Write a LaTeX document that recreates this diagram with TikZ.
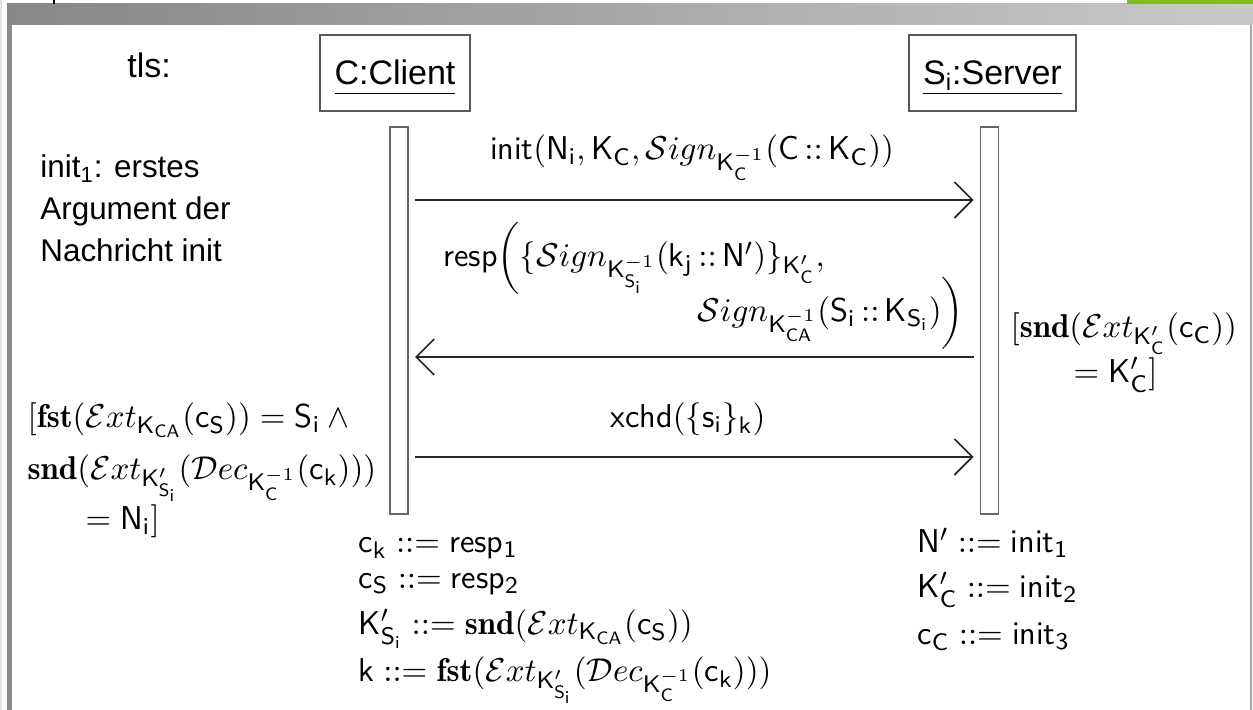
\RequirePackage{fix-cm}
\documentclass[tikz,border=0pt]{standalone}
\usepackage{fontspec}
\newfontfamily\arial{Liberation Sans}
\usetikzlibrary{arrows.meta}
\DeclareMathSizes{11}{11}{8}{6}
\newcommand\cons{\mskip3mu{:}{:}\mskip3mu}
\newcommand\defeq{\mathrel{{:}{:}{=}}}
\newcommand\objname[1]{\underline{\vphantom{S\textsubscript{i}}#1}}
\definecolor{bargreen}{RGB}{128,186,36}
\tikzset{
  lbl/.style = {font = \arial\fontsize{17}{20}\selectfont, inner sep = 0pt},
  obj/.style = {draw = black!65, line width = 1pt, minimum height = 38pt, text height = 13pt, text depth = 1pt, font = \arial\fontsize{17}{20}\selectfont},
  bar/.style = {draw = black!60, fill = white, line width = 0.8pt, minimum width = 9pt, minimum height = 193.5pt, inner sep = 0pt},
  msg/.style = {draw = black!85, line width = 0.8pt, shorten <=8pt, shorten >=8pt, -{Straight Barb[length = 9pt, width = 18pt]}},
  fml/.style = {font = \fontsize{11}{13.33}\selectfont, scale = 1.5, transform shape, inner sep = 0pt, anchor = base west},
  defs/.style = {fml, font = \fontsize{11}{11.7}\selectfont}
}
\begin{document}
\begin{tikzpicture}[x = 0.5pt, y = -0.5pt]
\fill[white] (0,0) rectangle (1253,710);
\useasboundingbox (0,0) rectangle (1253,710);
\shade[left color = black!47, right color = black!21] (7,4) rectangle (1253,25);
\fill[bargreen] (1127,0) rectangle (1253,4);
\draw[black, line width = 0.6pt] (54,0) -- (54,4);
\fill[black!10] (0,0) rectangle (2,710);
\fill[black!45] (7,25) rectangle (12,710);
\draw[black!35, line width = 0.8pt] (1251,25) -- (1251,710);
\node[lbl, anchor = base west] (tls) at (127,78) {tls:};
\node[lbl, font = \arial\fontsize{15.7}{21}\selectfont, anchor = base west] (note) at (40,178) {\begin{tabular}[t]{@{}l@{}}init\textsubscript{1}: erstes\\Argument der\\Nachricht init\end{tabular}};
\node[obj, minimum width = 75pt] (client) at (395,73) {\objname{C:Client}};
\node[obj, minimum width = 83.5pt] (server) at (992.5,73) {\objname{S\textsubscript{i}:Server}};
\node[bar] (cbar) at (399,320.5) {};
\node[bar] (sbar) at (989.5,320.5) {};
\draw[msg] (cbar |- 0,200) -- (sbar |- 0,200);
\draw[msg] (sbar |- 0,357) -- (cbar |- 0,357);
\draw[msg] (cbar |- 0,457) -- (sbar |- 0,457);
\node[fml, anchor = base] (init) at (692,160) {$\mathsf{init}(\mathsf{N_i}, \mathsf{K_C}, \mathcal{S}ign_{\mathsf{K}_{\mathsf{C}}^{-1}}(\mathsf{C}\cons\mathsf{K_C}))$};
\node[fml] (resp) at (443,267) {$\begin{array}[t]{@{}l@{}}
\mathsf{resp}\mathopen{\smash{\biggl(}}\{\mathcal{S}ign_{\mathsf{K}_{\mathsf{S_i}}^{-1}}(\mathsf{k_j}\cons\mathsf{N}')\}_{\mathsf{K}'_{\mathsf{C}}},\\[1.5pt]
\hspace{84.7pt}\mathcal{S}ign_{\mathsf{K}_{\mathsf{CA}}^{-1}}(\mathsf{S_i}\cons\mathsf{K_{S_i}})\mathclose{\smash{\biggr)}}
\end{array}$};
\node[fml, anchor = base] (xchd) at (688,428) {$\mathsf{xchd}(\{\mathsf{s_i}\}_{\mathsf{k}})$};
\node[fml] (sguard) at (1010,338) {$\begin{array}[t]{@{}l@{}}
[\mathbf{snd}(\mathcal{E}xt_{\mathsf{K}'_{\mathsf{C}}}(\mathsf{c_C}))\\[1.5pt]
\hspace{21pt}= \mathsf{K}'_{\mathsf{C}}]
\end{array}$};
\node[fml] (cguard) at (27,428) {$\begin{array}[t]{@{}l@{}}
[\mathbf{fst}(\mathcal{E}xt_{\mathsf{K_{CA}}}(\mathsf{c_S})) = \mathsf{S_i} \wedge{}\\[4pt]
\mathbf{snd}(\mathcal{E}xt_{\mathsf{K}'_{\mathsf{S_i}}}(\mathcal{D}ec_{\mathsf{K}_{\mathsf{C}}^{-1}}(\mathsf{c_k})))\\
\hspace{19.3pt}= \mathsf{N_i}]
\end{array}$};
\node[defs] (cdefs) at (358,553) {$\begin{array}[t]{@{}l@{}}
\mathsf{c_k} \defeq \mathsf{resp_1}\\
\mathsf{c_S} \defeq \mathsf{resp_2}\\[3.5pt]
\mathsf{K}'_{\mathsf{S_i}} \defeq \mathbf{snd}(\mathcal{E}xt_{\mathsf{K_{CA}}}(\mathsf{c_S}))\\[4pt]
\mathsf{k} \defeq \mathbf{fst}(\mathcal{E}xt_{\mathsf{K}'_{\mathsf{S_i}}}(\mathcal{D}ec_{\mathsf{K}_{\mathsf{C}}^{-1}}(\mathsf{c_k})))
\end{array}$};
\node[defs] (sdefs) at (917,553) {$\begin{array}[t]{@{}l@{}}
\mathsf{N}' \defeq \mathsf{init_1}\\[3pt]
\mathsf{K}'_{\mathsf{C}} \defeq \mathsf{init_2}\\[4pt]
\mathsf{c_C} \defeq \mathsf{init_3}
\end{array}$};
\end{tikzpicture}
\end{document}
